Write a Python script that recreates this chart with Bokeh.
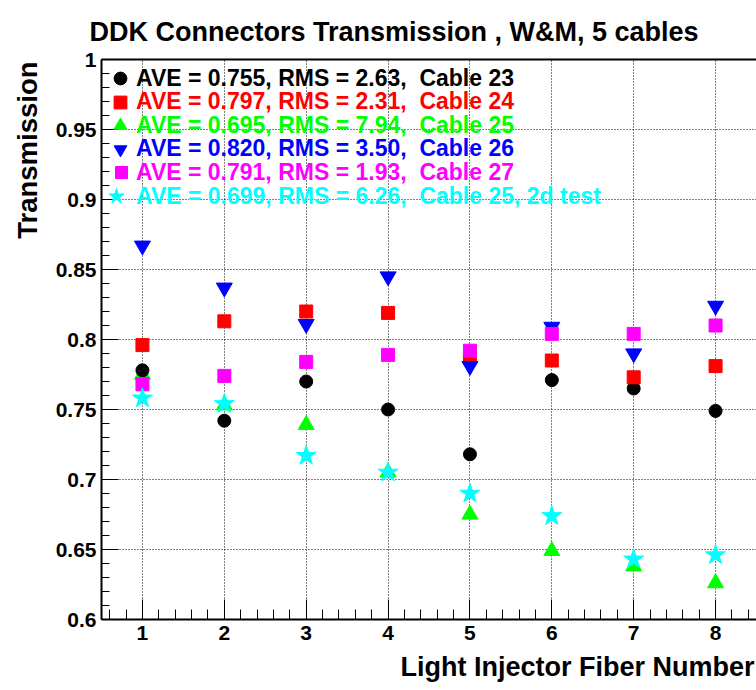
from bokeh.plotting import figure
from bokeh.models import (FixedTicker, Range1d, Legend, LegendItem, Title,
                          ColumnDataSource, LinearAxis)
from bokeh.embed import file_html
from bokeh.resources import INLINE

# ---------------- data ----------------
fiber = [1, 2, 3, 4, 5, 6, 7, 8]
cable23 = [0.778, 0.742, 0.770, 0.750, 0.718, 0.771, 0.765, 0.749]
cable24 = [0.796, 0.813, 0.820, 0.819, 0.787, 0.785, 0.773, 0.781]
cable25 = [0.775, 0.753, 0.739, 0.705, 0.675, 0.649, 0.638, 0.626]
cable26 = [0.867, 0.837, 0.811, 0.845, 0.781, 0.809, 0.790, 0.824]
cable27 = [0.768, 0.774, 0.784, 0.789, 0.792, 0.804, 0.804, 0.810]
cable25_2 = [0.758, 0.754, 0.717, 0.705, 0.690, 0.674, 0.643, 0.646]

labels = [
    "AVE = 0.755, RMS = 2.63,  Cable 23",
    "AVE = 0.797, RMS = 2.31,  Cable 24",
    "AVE = 0.695, RMS = 7.94,  Cable 25",
    "AVE = 0.820, RMS = 3.50,  Cable 26",
    "AVE = 0.791, RMS = 1.93,  Cable 27",
    "AVE = 0.699, RMS = 6.26,  Cable 25, 2d test",
]

x_ticks = [1, 2, 3, 4, 5, 6, 7, 8]
y_ticks = [0.6, 0.65, 0.7, 0.75, 0.8, 0.85, 0.9, 0.95, 1.0]
y_tick_labels = ["0.6", "0.65", "0.7", "0.75", "0.8", "0.85", "0.9", "0.95", "1"]

title_text = "DDK Connectors Transmission , W&M, 5 cables"
x_title = "Light Injector Fiber Number"
y_title = "Transmission"

FONT = "Liberation Sans"

# ---------------- figure ----------------
W, H = 756, 690
FL, FT, FB = 101, 59, 619

p = figure(width=W, height=H, output_backend="svg", toolbar_location=None,
           x_range=Range1d(0.5, 8.5), y_range=Range1d(0.6, 1.0),
           min_border_left=FL, min_border_right=0, min_border_top=FT,
           min_border_bottom=H - FB)
p.background_fill_color = "white"
p.border_fill_color = "white"
p.outline_line_color = None

bottom_axis = p.below[0]
left_axis = p.left[0]

# top frame line (no ticks, no labels)
top = LinearAxis(ticker=FixedTicker(ticks=[]),
                 major_tick_in=0, major_tick_out=0, minor_tick_in=0,
                 minor_tick_out=0, axis_line_width=2, axis_line_color="black",
                 major_label_standoff=0)
p.add_layout(top, "above")

x_minor = [round(0.6 + 0.2 * i, 1) for i in range(40)]
y_minor = [round(0.6 + 0.01 * i, 2) for i in range(41)]
bottom_axis.ticker = FixedTicker(ticks=x_ticks, minor_ticks=x_minor)
left_axis.ticker = FixedTicker(ticks=y_ticks, minor_ticks=y_minor)
left_axis.major_label_overrides = {t: s for t, s in zip(y_ticks, y_tick_labels)}
bottom_axis.major_label_overrides = {t: str(t) for t in x_ticks}

for ax in (bottom_axis, left_axis):
    ax.axis_line_width = 2
    ax.axis_line_color = "black"
    ax.major_tick_line_color = "black"
    ax.minor_tick_line_color = "black"
    ax.major_tick_out = 0
    ax.minor_tick_out = 0
    ax.major_label_text_font = FONT
    ax.major_label_text_font_style = "bold"
    ax.major_label_text_font_size = "21px"
    ax.major_label_text_color = "black"

bottom_axis.major_tick_in = 20
bottom_axis.minor_tick_in = 10
left_axis.major_tick_in = 17
left_axis.minor_tick_in = 8
bottom_axis.major_label_standoff = 6
left_axis.major_label_standoff = 5

p.xgrid.grid_line_color = "black"
p.ygrid.grid_line_color = "black"
p.xgrid.grid_line_dash = "1 2"
p.ygrid.grid_line_dash = "1 2"
p.xgrid.grid_line_width = 1
p.ygrid.grid_line_width = 1

# ---------------- series ----------------
src = ColumnDataSource(dict(x=fiber, c23=cable23, c24=cable24, c25=cable25,
                            c26=cable26, c27=cable27, c25b=cable25_2))

r25 = p.scatter("x", "c25", source=src, marker="triangle", size=16,
                fill_color="#00ff00", line_color="#00ff00")
r23 = p.scatter("x", "c23", source=src, marker="circle", size=13,
                fill_color="#000000", line_color="#000000")
r24 = p.scatter("x", "c24", source=src, marker="square", size=13,
                fill_color="#ff0000", line_color="#ff0000")
r26 = p.scatter("x", "c26", source=src, marker="inverted_triangle", size=16,
                fill_color="#0000ff", line_color="#0000ff")
r27 = p.scatter("x", "c27", source=src, marker="square", size=13,
                fill_color="#ff00ff", line_color="#ff00ff")
r25b = p.scatter("x", "c25b", source=src, marker="star", size=21,
                 fill_color="#00ffff", line_color="#00ffff")

series = [(r23, "#000000", 32), (r24, "#ff0000", 32), (r25, "#00ff00", 32),
          (r26, "#0000ff", 32), (r27, "#ff00ff", 30), (r25b, "#00ffff", 40)]

row0, row_step = 78, 23.6
text_x = 136
for i, ((r, col, g), lab) in enumerate(zip(series, labels)):
    cy = row0 + row_step * i
    leg = Legend(items=[LegendItem(label=lab, renderers=[r])],
                 location=(text_x - g - FL, FB - (cy + g / 2)),
                 glyph_width=g, glyph_height=g, label_standoff=0,
                 padding=0, margin=0, spacing=0,
                 background_fill_alpha=0, border_line_alpha=0,
                 label_text_color=col, label_text_font=FONT,
                 label_text_font_style="bold", label_text_font_size="23px")
    p.add_layout(leg, "center")

# ---------------- titles ----------------
p.add_layout(Title(text=y_title, align="right", vertical_align="top",
                   text_font=FONT, text_font_style="bold",
                   text_font_size="27.5px", text_color="black",
                   standoff=16, offset=2), "left")
p.add_layout(Title(text=x_title, align="right", text_font=FONT,
                   text_font_style="bold", text_font_size="27px",
                   text_color="black", standoff=14, offset=2), "below")
p.add_layout(Title(text=title_text, align="left", text_font=FONT,
                   text_font_style="bold", text_font_size="27px",
                   text_color="black", standoff=26, offset=-12), "above")

open("out.html", "w").write(file_html(p, INLINE))
